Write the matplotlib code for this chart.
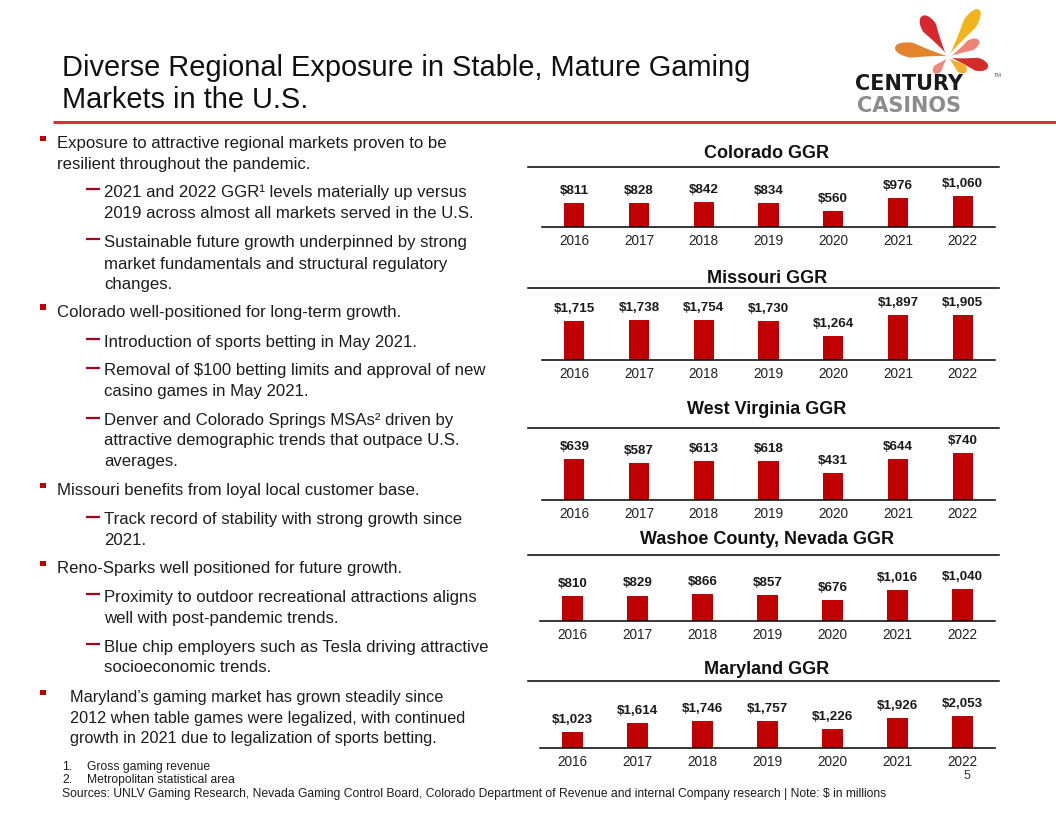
import matplotlib
matplotlib.use('Agg')
import matplotlib.pyplot as plt
from matplotlib import font_manager
from matplotlib.patches import Rectangle, Polygon
import numpy as np

W, H = 1056, 816

# ---------------- data ----------------
years = ['2016', '2017', '2018', '2019', '2020', '2021', '2022']
colorado = [811, 828, 842, 834, 560, 976, 1060]
missouri = [1715, 1738, 1754, 1730, 1264, 1897, 1905]
west_virginia = [639, 587, 613, 618, 431, 644, 740]
washoe = [810, 829, 866, 857, 676, 1016, 1040]
maryland = [1023, 1614, 1746, 1757, 1226, 1926, 2053]
chart_titles = ['Colorado GGR', 'Missouri GGR', 'West Virginia GGR',
                'Washoe County, Nevada GGR', 'Maryland GGR']
series = [colorado, missouri, west_virginia, washoe, maryland]

title_lines = ['Diverse Regional Exposure in Stable, Mature Gaming',
               'Markets in the U.S.']

# (level, text) ; level 0 = main bullet, 1 = sub bullet, None = continuation
body_lines = [
    (0, 'Exposure to attractive regional markets proven to be'),
    (None, 'resilient throughout the pandemic.'),
    (1, '2021 and 2022 GGR\u00b9 levels materially up versus'),
    (None, '2019 across almost all markets served in the U.S.'),
    (1, 'Sustainable future growth underpinned by strong'),
    (None, 'market fundamentals and structural regulatory'),
    (None, 'changes.'),
    (0, 'Colorado well-positioned for long-term growth.'),
    (1, 'Introduction of sports betting in May 2021.'),
    (1, 'Removal of $100 betting limits and approval of new'),
    (None, 'casino games in May 2021.'),
    (1, 'Denver and Colorado Springs MSAs\u00b2 driven by'),
    (None, 'attractive demographic trends that outpace U.S.'),
    (None, 'averages.'),
    (0, 'Missouri benefits from loyal local customer base.'),
    (1, 'Track record of stability with strong growth since'),
    (None, '2021.'),
    (0, 'Reno-Sparks well positioned for future growth.'),
    (1, 'Proximity to outdoor recreational attractions aligns'),
    (None, 'well with post-pandemic trends.'),
    (1, 'Blue chip employers such as Tesla driving attractive'),
    (None, 'socioeconomic trends.'),
]
body_levels_x = {0: 57, 1: 104}
body_baselines = [147.8, 169.1, 196.8, 217.5, 246.8, 268.5, 289.1, 316.5,
                  346.5, 375.1, 395.8, 425.1, 445.1, 465.8, 495.1, 524.1,
                  545.1, 573.1, 601.8, 623.1, 651.8, 672.5]

maryland_lines = ['Maryland\u2019s gaming market has grown steadily since',
                  '2012 when table games were legalized, with continued',
                  'growth in 2021 due to legalization of sports betting.']
maryland_baselines = [701.8, 722.5, 743.1]

footnotes = ['Gross gaming revenue', 'Metropolitan statistical area']
sources = ('Sources: UNLV Gaming Research, Nevada Gaming Control Board, Colorado '
           'Department of Revenue and internal Company research | Note: $ in millions')

# ---------------- fonts ----------------
names = {f.name for f in font_manager.fontManager.ttflist}
SANS = 'Liberation Sans' if 'Liberation Sans' in names else 'DejaVu Sans'
NARROW = 'Liberation Sans Narrow' if 'Liberation Sans Narrow' in names else SANS
plt.rcParams['font.family'] = [SANS, 'DejaVu Sans']

TXT = '#1c1c1c'
RED = '#C00000'
BODY_FS = 12.1

fig = plt.figure(figsize=(W / 100, H / 100), dpi=100)
fig.patch.set_facecolor('white')
ov = fig.add_axes([0, 0, 1, 1])
ov.set_xlim(0, W)
ov.set_ylim(H, 0)
ov.axis('off')
r = fig.canvas.get_renderer()


def fit_width(t, target):
    w = t.get_window_extent(r).width
    if w > 0:
        t.set_fontsize(t.get_fontsize() * target / w)
    return t.get_fontsize()


# ---------------- header ----------------
ov.text(62, 75.5, title_lines[0], fontsize=20.9, va='baseline', color='#111111')
ov.text(62, 108.5, title_lines[1], fontsize=20.9, va='baseline', color='#111111')
ov.plot([52.7, W], [121.7, 121.7], color='#D0343C', lw=2.2, solid_capstyle='butt')


# logo petals
def petal(base, tip, w, color):
    b = np.array(base, float)
    tp = np.array(tip, float)
    d = tp - b
    L = np.hypot(*d)
    u = d / L
    n = np.array([-u[1], u[0]])
    t = np.linspace(0, 1, 80)
    hw = np.where(t < 0.68, (w / 2) * (t / 0.68) ** 1.2,
                  (w / 2) * np.sqrt(np.clip(1 - ((t - 0.68) / 0.32) ** 2, 0, 1)))
    left = b + np.outer(t * L, u) + np.outer(hw, n)
    right = b + np.outer(t * L, u) - np.outer(hw, n)
    pts = np.vstack([left, right[::-1]])
    ov.add_patch(Polygon(pts, closed=True, facecolor=color, edgecolor='none'))


petal((947, 56), (895, 47.5), 15, '#E4832C')
petal((945.5, 53), (922, 16), 15, '#D7282F')
petal((950, 54), (979, 9.5), 14, '#F2B41D')
petal((951.5, 56), (979, 40.5), 11, '#EE8478')
petal((951.5, 58), (988, 67), 13, '#D42B2B')
petal((949, 58.5), (966, 72), 10, '#F3B030')
petal((946.5, 58.5), (934, 73), 9, '#F08A80')

ov.text(909, 90.5, 'CENTURY', ha='center', va='baseline', fontsize=15,
        fontweight='bold', family='DejaVu Sans', color='#1a1a1a')
ov.text(909, 112.5, 'CASINOS', ha='center', va='baseline', fontsize=15,
        fontweight='bold', family='DejaVu Sans', color='#8C8C8C')
ov.text(994, 77, 'TM', ha='left', va='baseline', fontsize=4, color='#555555')

# ---------------- body text ----------------
for i, ((lvl, s), yb) in enumerate(zip(body_lines, body_baselines)):
    if lvl == 0:
        ov.add_patch(Rectangle((40, yb - 12.3), 5.5, 5.5, facecolor=RED,
                               edgecolor='none'))
    elif lvl == 1:
        ov.plot([86, 100], [yb - 7.5, yb - 7.5], color='#A5001E', lw=1.6,
                solid_capstyle='butt')
    j = i
    while body_lines[j][0] is None:
        j -= 1
    x = body_levels_x[body_lines[j][0]]
    ov.text(x, yb, s, fontsize=BODY_FS, va='baseline', color=TXT)

# Maryland paragraph
ov.add_patch(Rectangle((40, maryland_baselines[0] - 12.3), 5.5, 5.5, facecolor=RED,
                       edgecolor='none'))
mt = [ov.text(69.5, yb, s, fontsize=11.7, va='baseline', color=TXT, family=NARROW)
      for s, yb in zip(maryland_lines, maryland_baselines)]
if NARROW != SANS:
    fs = fit_width(mt[1], 417.5)
    for t in mt:
        t.set_fontsize(fs)

# footnotes
st = ov.text(62, 797, sources, fontsize=8.5, va='baseline', color=TXT, family=NARROW)
ffs = fit_width(st, 821)
ov.text(62, 769.8, '1.', fontsize=ffs, va='baseline', color=TXT, family=NARROW)
ov.text(86.8, 769.8, footnotes[0], fontsize=ffs, va='baseline', color=TXT, family=NARROW)
ov.text(62, 783.2, '2.', fontsize=ffs, va='baseline', color=TXT, family=NARROW)
ov.text(86.8, 783.2, footnotes[1], fontsize=ffs, va='baseline', color=TXT, family=NARROW)
ov.text(967, 776, '5', fontsize=9, ha='center', va='center', color='#333333')

# ---------------- charts ----------------
panel_tops = [166.7, 288.3, 428.3, 555.3, 680.7]
panel_bottoms = [227.3, 360.3, 500.3, 621.3, 748.3]
panel_left = [542, 542, 542, 540, 540]
panel_right = 995
title_y = [154, 278.3, 410, 540, 670]
ylims = [(0, 2052), (522, 2720), (0, 1127), (0, 2125), (0, 4297)]

for k in range(5):
    t_, b_, l_ = panel_tops[k], panel_bottoms[k], panel_left[k]
    ax = fig.add_axes([l_ / W, 1 - b_ / H, (panel_right - l_) / W, (b_ - t_) / H])
    ax.patch.set_alpha(0)
    vals = series[k]
    bars = ax.bar(range(len(years)), vals, width=0.31, color=RED)
    ax.set_xlim(-0.5, len(years) - 0.5)
    ax.set_ylim(*ylims[k])
    for s in ['top', 'left', 'right']:
        ax.spines[s].set_visible(False)
    ax.spines['bottom'].set_linewidth(1.1)
    ax.spines['bottom'].set_color('black')
    ax.set_yticks([])
    ax.set_xticks(range(len(years)))
    ax.set_xticklabels(years, fontsize=9.8, color='#222222')
    ax.tick_params(axis='x', length=0, pad=5)
    ax.bar_label(bars, labels=[f'${v:,}' for v in vals], padding=4.4,
                 fontsize=9.6, fontweight='bold', color='#1a1a1a')
    ov.plot([528, 999], [t_, t_], color='black', lw=1.1)
    ov.text(767, title_y[k], chart_titles[k], ha='center', va='center',
            fontsize=13, fontweight='bold', color='#111111')

fig.savefig('out.png', dpi=100, facecolor='white')
